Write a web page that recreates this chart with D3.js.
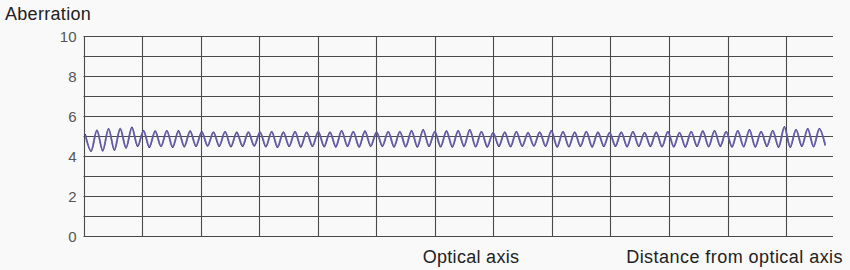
<!DOCTYPE html>
<html>
<head>
<meta charset="utf-8">
<script src="https://cdn.jsdelivr.net/npm/d3@7"></script>
<style>
  html, body { margin: 0; padding: 0; background: #f9f9f9; }
  svg { display: block; font-family: "Liberation Sans", Arial, sans-serif; }
</style>
</head>
<body>
<div id="chart"></div>
<script>
// values: alternating crest / trough of the wave
const aberration = [
  5.12, 4.25, 5.32, 4.27, 5.4, 4.3, 5.38, 4.42, 5.47, 4.5,
  5.3, 4.45, 5.28, 4.5, 5.3, 4.45, 5.3, 4.48, 5.28, 4.5,
  5.25, 4.52, 5.22, 4.5, 5.25, 4.48, 5.22, 4.5, 5.2, 4.52,
  5.22, 4.48, 5.25, 4.45, 5.22, 4.5, 5.25, 4.47, 5.22, 4.5,
  5.25, 4.48, 5.22, 4.47, 5.3, 4.5, 5.25, 4.47, 5.28, 4.5,
  5.22, 4.5, 5.25, 4.47, 5.25, 4.48, 5.3, 4.47, 5.35, 4.5,
  5.25, 4.48, 5.28, 4.47, 5.3, 4.5, 5.35, 4.48, 5.25, 4.47,
  5.2, 4.5, 5.22, 4.48, 5.25, 4.5, 5.2, 4.52, 5.22, 4.5,
  5.3, 4.47, 5.25, 4.48, 5.22, 4.5, 5.25, 4.47, 5.22, 4.5,
  5.2, 4.5, 5.22, 4.48, 5.25, 4.5, 5.2, 4.5, 5.22, 4.48,
  5.25, 4.48, 5.2, 4.47, 5.25, 4.5, 5.28, 4.48, 5.3, 4.5,
  5.25, 4.47, 5.3, 4.48, 5.35, 4.47, 5.25, 4.5, 5.3, 4.45,
  5.5, 4.45, 5.35, 4.5, 5.4, 4.48, 5.4, 4.55
];

// the lighter trace lying over the dark one
const aberrationLight = [
  5.08, 4.3, 5.3, 4.32, 5.36, 4.35, 5.4, 4.45, 5.42, 4.55,
  5.26, 4.5, 5.25, 4.52, 5.26, 4.5, 5.24, 4.52, 5.25, 4.55,
  5.2, 4.55, 5.2, 4.55, 5.22, 4.52, 5.18, 4.55, 5.22, 4.56,
  5.2, 4.52, 5.22, 4.5, 5.2, 4.54, 5.22, 4.52, 5.2, 4.54,
  5.22, 4.52, 5.2, 4.52, 5.26, 4.55, 5.22, 4.52, 5.24, 4.55,
  5.2, 4.55, 5.22, 4.52, 5.22, 4.52, 5.26, 4.52, 5.3, 4.55,
  5.22, 4.52, 5.25, 4.52, 5.26, 4.55, 5.3, 4.52, 5.22, 4.52,
  5.18, 4.55, 5.2, 4.52, 5.22, 4.55, 5.18, 4.55, 5.2, 4.55,
  5.26, 4.52, 5.22, 4.52, 5.2, 4.55, 5.22, 4.52, 5.2, 4.55,
  5.18, 4.55, 5.2, 4.52, 5.22, 4.55, 5.18, 4.55, 5.2, 4.52,
  5.22, 4.52, 5.18, 4.52, 5.22, 4.55, 5.25, 4.52, 5.26, 4.55,
  5.22, 4.52, 5.26, 4.52, 5.3, 4.52, 5.22, 4.55, 5.26, 4.5,
  5.45, 4.5, 5.32, 4.55, 5.36, 4.52, 5.36, 4.6
];

const yTicks = [0, 1, 2, 3, 4, 5, 6, 7, 8, 9, 10];
const yLabels = [0, 2, 4, 6, 8, 10];
const xTicks = [0, 1, 2, 3, 4, 5, 6, 7, 8, 9, 10, 11, 12];
const X_START = 0.03;
const X_STEP = 0.0995;

const width = 850;
const height = 270;

const svg = d3.select('#chart')
  .append('svg')
  .attr('width', width)
  .attr('height', height);

svg.append('rect')
  .attr('width', width)
  .attr('height', height)
  .attr('fill', '#f9f9f9');

const x = d3.scaleLinear().domain([0, 12.8]).range([83.5, 833]);
const y = d3.scaleLinear().domain([0, 10]).range([236.5, 36.5]);

const grid = svg.append('g');

// horizontal grid
grid.selectAll('line.h')
  .data(yTicks)
  .join('line')
  .attr('class', 'h')
  .attr('x1', x(0))
  .attr('x2', x(12.8))
  .attr('y1', d => y(d))
  .attr('y2', d => y(d))
  .attr('stroke', '#4a4a4a')
  .attr('stroke-width', 1.1);

// vertical grid
grid.selectAll('line.v')
  .data(xTicks)
  .join('line')
  .attr('class', 'v')
  .attr('x1', d => Math.round(x(d)) + 0.5)
  .attr('x2', d => Math.round(x(d)) + 0.5)
  .attr('y1', y(10))
  .attr('y2', y(0))
  .attr('stroke', '#4a4a4a')
  .attr('stroke-width', 1.1);

svg.append('g')
  .selectAll('text')
  .data(yLabels)
  .join('text')
  .attr('x', 77)
  .attr('y', d => y(d))
  .attr('dy', '0.36em')
  .attr('text-anchor', 'end')
  .attr('fill', '#555')
  .attr('font-size', 15)
  .attr('letter-spacing', 0.3)
  .text(d => d);

const line = d3.line()
  .x((d, i) => x(X_START + i * X_STEP))
  .y(d => y(d))
  .curve(d3.curveCatmullRom.alpha(0.5));

svg.append('path')
  .attr('d', line(aberration))
  .attr('fill', 'none')
  .attr('stroke', '#1d1a66')
  .attr('stroke-width', 1.2);

svg.append('path')
  .attr('d', line(aberrationLight))
  .attr('fill', 'none')
  .attr('stroke', '#6f67b0')
  .attr('stroke-opacity', 0.8)
  .attr('stroke-width', 2);

svg.append('text')
  .attr('x', 5)
  .attr('y', 20)
  .attr('fill', '#222')
  .attr('font-size', 18)
  .attr('letter-spacing', 0.3)
  .text('Aberration');

svg.append('text')
  .attr('x', 471)
  .attr('y', 263)
  .attr('text-anchor', 'middle')
  .attr('fill', '#222')
  .attr('font-size', 18)
  .attr('letter-spacing', 0.3)
  .text('Optical axis');

svg.append('text')
  .attr('x', 843)
  .attr('y', 263)
  .attr('text-anchor', 'end')
  .attr('fill', '#222')
  .attr('font-size', 18)
  .attr('letter-spacing', 0.45)
  .text('Distance from optical axis');
</script>
</body>
</html>
